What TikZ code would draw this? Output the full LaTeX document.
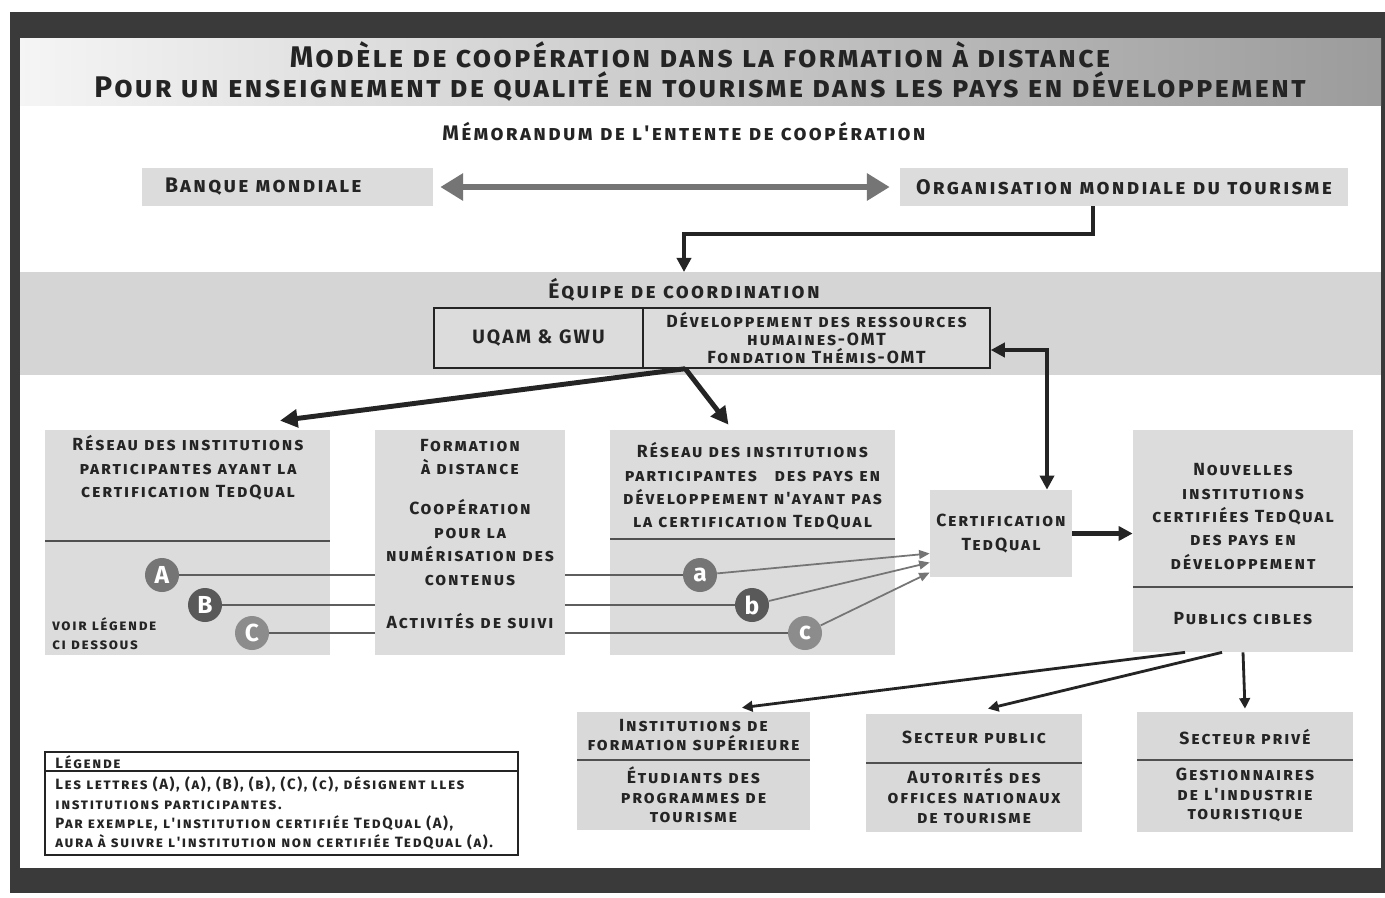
\documentclass[tikz,border=0pt]{standalone}
\usepackage{fontspec}
\setmainfont{Fira Sans}
\newfontfamily\trackedfont[LetterSpace=11]{Fira Sans}
\newfontfamily\titlefont[LetterSpace=7.5]{Fira Sans}
\usetikzlibrary{shapes, arrows.meta, positioning, backgrounds}
\definecolor{BoxGray}{HTML}{DCDCDC}
\definecolor{BandGray}{HTML}{D5D5D5}
\definecolor{FrameGray}{HTML}{3A3A3A}
\definecolor{InkGray}{HTML}{242424}
\definecolor{MidGray}{HTML}{757575}
\tikzset{every picture/.style={/utils/exec={\scshape}}}

\begin{document}
\begin{tikzpicture} [x=0.02cm, y=-0.02cm,
			every node/.style={align=center,text=InkGray,inner sep=0pt},
			boxsize/.style 2 args={minimum width=#1*0.02cm, minimum height=#2*0.02cm},
			box/.style={rectangle,fill=BoxGray},
			head/.style={font=\trackedfont\fontsize{12}{14}\selectfont\bfseries\scshape},
			txt/.style={font=\trackedfont\fontsize{10}{13.3}\selectfont\bfseries\scshape},
			tight/.style={font=\trackedfont\fontsize{10}{11.2}\selectfont\bfseries\scshape},
			small/.style={font=\trackedfont\fontsize{8.5}{11}\selectfont\bfseries\scshape},
			letter/.style={circle,minimum size=34*0.02cm,text=white,font=\normalfont\fontsize{14}{14}\selectfont\bfseries},
			memo/.style={color=MidGray,line width=3pt,{Triangle[length=13pt,width=15pt]}-{Triangle[length=13pt,width=15pt]}},
			flow/.style={color=InkGray,line width=2.3pt,-{Triangle[length=8pt,width=8pt]}},
			fine/.style={color=InkGray,line width=1.6pt,-{Triangle[length=6pt,width=6pt]}},
			abc/.style={color=MidGray!80!black,line width=1.1pt},
			abcarrow/.style={color=MidGray,line width=1pt,-{Triangle[length=6pt,width=5pt]}}
		]
			% cadre et bandeaux
			\useasboundingbox (0,0) rectangle (1385,897);
			\fill[FrameGray] (10,12) rectangle (1385,893);
			\fill[white] (20,38) rectangle (1381,868);
			\shade[left color=gray!8, middle color=gray!30, right color=gray!78] (20,38) rectangle (1381,105);
			\fill[BandGray] (20,272) rectangle (1381,375);
			\node at (700,72) [font=\titlefont\fontsize{17}{17}\selectfont\bfseries\scshape] (title) {Modèle de coopération dans la formation à distance\\Pour un enseignement de qualité en tourisme dans les pays en développement};
			\node at (684,132) [head] (memorandum) {Mémorandum de l'entente de coopération};
			\node at (287.5,187) [box,boxsize={291}{38},head,text width=4.9cm,align=left] (banque) {Banque mondiale};
			\node at (1124,187) [box,boxsize={448}{38},head] (omt) {Organisation mondiale du tourisme};
			\draw[memo] ([xshift=0.14cm]banque.east) -- ([xshift=-0.2cm]omt.west);
			% equipe de coordination
			\node at (684,290) [head] (equipe) {Équipe de coordination};
			\coordinate (bandtop) at (684,272);
			\node at (538.5,338) [box,boxsize={209}{60},draw=InkGray,thick,font=\trackedfont\fontsize{11}{13}\selectfont\bfseries\scshape] (uqam) {UQAM \& GWU};
			\node at (816.5,338) [box,boxsize={347}{60},draw=InkGray,thick,font=\trackedfont\fontsize{10}{10.4}\selectfont\bfseries\scshape] (drh) {Développement des ressources\\humaines-OMT\\Fondation Thémis-OMT};
			\draw[flow] ([xshift=-0.62cm]omt.south) |- (684,234) -- (bandtop);
			% reseaux et formation
			\node at (187.5,542.5) [box,boxsize={285}{225}] (reseauA) {};
			\node at (188,468) [txt] (reseauAtxt) {Réseau des institutions\\participantes ayant la\\certification TedQual};
			\draw[InkGray!80,thick] (45,541) -- (330,541);
			\node at (52,633.5) [small,anchor=west,align=left] (voir) {voir légende\\ci dessous};
			\node at (752.5,542.5) [box,boxsize={285}{225}] (reseauB) {};
			\node at (752.5,486.5) [txt] (reseauBtxt) {Réseau des institutions\\participantes\quad des pays en\\développement n'ayant pas\\la certification TedQual};
			\draw[InkGray!80,thick] (610,539) -- (895,539);
			\node at (162,575) [letter,fill=MidGray] (A) {A};
			\node at (205,605) [letter,fill=gray!70!black] (B) {B};
			\node at (252,633) [letter,fill=gray!90] (C) {C};
			\node at (700,575) [letter,fill=MidGray] (a) {a};
			\node at (752,605) [letter,fill=gray!70!black] (b) {b};
			\node at (805,633) [letter,fill=gray!90] (c) {c};
			\path[abc] (A) edge (a) (B) edge (b) (C) edge (c);
			\node at (470,542.5) [box,boxsize={190}{225}] (formation) {};
			\node at (470,457) [txt] (formationtxt) {Formation\\à distance};
			\node at (470,542.5) [txt] (cooperation) {Coopération\\pour la\\numérisation des\\contenus};
			\node at (470,621) [txt] (suivi) {Activités de suivi};
			% certification
			\node at (1001,533.5) [box,boxsize={142}{87},txt] (certif) {Certification\\TedQual};
			\path[abcarrow] (a) edge ([yshift=-0.40cm]certif.west) (b) edge ([yshift=-0.58cm]certif.west) (c) edge ([yshift=-0.78cm]certif.west);
			\draw[flow,{Triangle[length=8pt,width=8pt]}-{Triangle[length=8pt,width=8pt]}] ([yshift=-0.24cm]drh.east) -| ([xshift=0.92cm]certif.north);
			\draw[flow,line width=2.8pt,-{Triangle[length=10pt,width=10pt]}] ([xshift=0.86cm]drh.south west) -- ([xshift=1.85cm,yshift=0.18cm]reseauA.north);
			\draw[flow,line width=2.8pt,-{Triangle[length=10pt,width=10pt]}] ([xshift=0.86cm]drh.south west) -- ([xshift=-0.48cm,yshift=0.1cm]reseauB.north);
			\node at (1243,541) [box,boxsize={220}{222}] (nouvelles) {};
			\node at (1243,516.5) [txt] (nouvellestxt) {Nouvelles\\institutions\\certifiées TedQual\\des pays en\\développement};
			\draw[InkGray!80,thick] (1133,587) -- (1353,587);
			\node at (1243,619) [txt] (publics) {Publics cibles};
			\draw[flow] (certif.east) -- (nouvelles.west |- certif.east);
			% publics cibles
			\node at (693.5,771) [box,boxsize={233}{118},fill=gray!30] (ifs) {};
			\node at (693.5,735) [tight] (ifstxt) {Institutions de\\formation supérieure};
			\node at (693.5,795) [tight] (etudiants) {Étudiants des\\programmes de\\tourisme};
			\draw[InkGray!80,thick] (577,760) -- (810,760);
			\node at (974,773) [box,boxsize={216}{118},fill=gray!30] (public) {};
			\node at (974,737) [txt] (publictxt) {Secteur public};
			\node at (974,796) [tight] (autorites) {Autorités des\\offices nationaux\\de tourisme};
			\draw[InkGray!80,thick] (866,763) -- (1082,763);
			\node at (1245,772) [box,boxsize={216}{120},fill=gray!30] (prive) {};
			\node at (1245,737) [txt] (privetxt) {Secteur privé};
			\node at (1245,795) [tight] (gestionnaires) {Gestionnaires\\de l'industrie\\touristique};
			\draw[InkGray!80,thick] (1137,760) -- (1353,760);
			\path[fine] ([xshift=-1.16cm]nouvelles.south) edge ([xshift=0.97cm,yshift=0.08cm]ifs.north);
			\path[fine] ([xshift=-0.42cm]nouvelles.south) edge ([xshift=0.28cm,yshift=0.1cm]public.north);
			\path[fine] (nouvelles.south) edge ([yshift=0.06cm]prive.north);
			% legende
			\node at (281.5,803.5) [boxsize={473}{103},draw=InkGray,thick,fill=white] (legende) {};
			\draw[InkGray,thick] (45,771) -- (518,771);
			\node at (55,762) [small,anchor=west] (legendetitre) {Légende};
			\node at (55,813.5) [small,anchor=west,align=left] (legendetxt) {Les lettres (A), (a), (B), (b), (C), (c), désignent lles\\institutions participantes.\\Par exemple, l'institution certifiée TedQual (A),\\aura à suivre l'institution non certifiée TedQual (a).};
		\end{tikzpicture}
\end{document}
